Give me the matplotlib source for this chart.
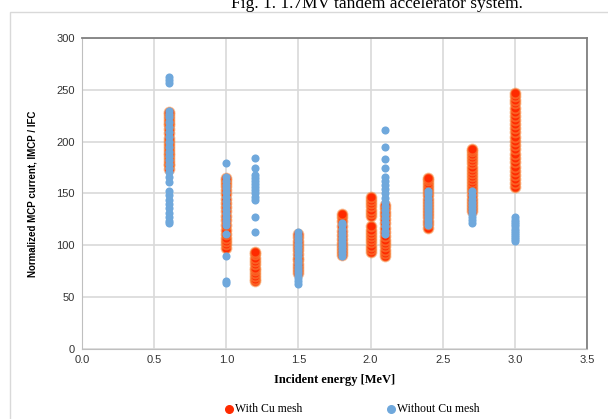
import numpy as np
import matplotlib.pyplot as plt
from matplotlib.patches import Rectangle

# energies [MeV] and normalized MCP current
# with Cu mesh
red_x = [0.6, 1.0, 1.2, 1.5, 1.8, 2.0, 2.1, 2.4, 2.7, 3.0]
red_y = [
    [174, 177, 178, 181, 184, 187, 189, 192, 195, 198, 201, 204, 208, 212, 216, 218, 221, 224, 227, 229],
    [97, 101, 104, 107, 111, 115, 119, 124, 128, 133, 137, 141, 145, 149, 153, 157, 160, 163, 165],
    [65, 67, 70, 73, 76, 78, 82, 85, 88, 91, 93],
    [73, 76, 79, 82, 86, 88, 91, 95, 98, 101, 104, 108, 111],
    [90, 93, 96, 99, 102, 106, 110, 114, 118, 123, 127, 130],
    [93, 96, 99, 103, 106, 109, 112, 115, 118, 128, 131, 134, 138, 141, 144, 147],
    [89, 92, 95, 99, 102, 105, 109, 113, 117, 121, 125, 129, 132, 136, 139],
    [117, 120, 123, 127, 130, 133, 136, 139, 142, 145, 148, 151, 154, 157, 160, 163, 165],
    [133, 136, 139, 142, 145, 148, 152, 155, 158, 161, 164, 167, 170, 173, 176, 179, 182, 185, 188, 191, 193],
    [156, 160, 164, 168, 172, 176, 180, 184, 188, 193, 197, 201, 205, 209, 213, 217, 221, 225, 229, 233, 237, 240, 244, 247],
]
# without Cu mesh
blue_x = [0.6, 1.0, 1.2, 1.5, 1.8, 2.1, 2.4, 2.7, 3.0]
blue_y = [
    [263, 260, 257, 230, 227, 224, 219, 214, 209, 205, 200, 195, 190, 186, 182, 178, 175, 171, 166, 161, 152, 148, 144, 140, 136, 131, 127, 123, 121],
    [179, 166, 162, 158, 155, 151, 147, 143, 139, 135, 131, 127, 123, 119, 111, 89, 65, 63],
    [184, 175, 168, 165, 162, 159, 156, 153, 150, 147, 144, 127, 113],
    [62, 65, 68, 71, 74, 77, 80, 83, 86, 89, 92, 95, 98, 101, 104, 107, 110, 113],
    [89, 92, 95, 98, 101, 104, 107, 110, 113, 116, 119, 121],
    [211, 195, 183, 175, 166, 162, 158, 154, 150, 146, 142, 138, 134, 130, 126, 122, 118, 114, 111],
    [119, 122, 125, 128, 131, 134, 137, 140, 143, 146, 149, 152],
    [121, 124, 127, 130, 133, 136, 139, 142, 145, 148, 152],
    [104, 106, 108, 110, 112, 114, 116, 118, 120, 122, 124, 127],
]

fig = plt.figure(figsize=(6.08, 4.19), dpi=100)

# caption of the page, cut at the top
fig.text(0.62, 1 - 8 / 419, 'Fig. 1. 1.7MV tandem accelerator system.',
         family='Liberation Serif', fontsize=12.5, ha='center', va='baseline')
# chart panel border
fig.patches.append(Rectangle((10 / 608, -0.1), 1.2, 1 - 12 / 419 + 0.1,
                             transform=fig.transFigure, fill=False,
                             edgecolor='#d9d9d9', linewidth=1))

ax = fig.add_axes([82 / 608, 70.5 / 419, 505 / 608, 310.2 / 419])

for x, ys in zip(red_x, red_y):
    ax.scatter([x] * len(ys), ys, s=50, facecolor='#ff2a00',
               edgecolor=(0.97, 0.55, 0.25, 0.55), linewidth=1.4, zorder=3)
for x, ys in zip(blue_x, blue_y):
    ax.scatter([x] * len(ys), ys, s=34, color='#6fa8dc', linewidth=0, zorder=4)

ax.set_xlim(0, 3.5)
ax.set_ylim(0, 300)
ax.set_xticks(np.arange(0, 3.51, 0.5))
ax.set_yticks(np.arange(0, 301, 50))
ax.set_xticklabels([f'{v:.1f}' for v in np.arange(0, 3.51, 0.5)])
ax.grid(True, color='#d9d9d9', linewidth=1.2, zorder=0)
ax.set_axisbelow(True)
ax.tick_params(length=0, labelsize=8, labelcolor='#333333', pad=5)
for t in ax.get_xticklabels() + ax.get_yticklabels():
    t.set_family('Liberation Sans')
for side in ['left', 'bottom']:
    ax.spines[side].set_color('#bfbfbf')
for side in ['top', 'right']:
    ax.spines[side].set_color('#808080')
    ax.spines[side].set_linewidth(1.3)

ax.set_xlabel('Incident energy [MeV]', family='Liberation Serif', fontweight='bold',
              fontsize=9, labelpad=6)
ax.set_ylabel('Normalized MCP current, IMCP / IFC', family='Liberation Sans',
              fontweight='bold', fontsize=7, labelpad=14)

# legend below the chart
h1 = ax.scatter([], [], s=30, color='#ff2a00', label='With Cu mesh')
h2 = ax.scatter([], [], s=30, color='#6fa8dc', label='Without Cu mesh')
fig.legend(handles=[h1, h2], loc='center', bbox_to_anchor=(0.578, 9 / 419 + 0.002), ncol=2,
           frameon=False, prop={'family': 'Liberation Serif', 'size': 8.5},
           handletextpad=0.0, columnspacing=7, handlelength=1)

fig.savefig('out.png', dpi=100)
